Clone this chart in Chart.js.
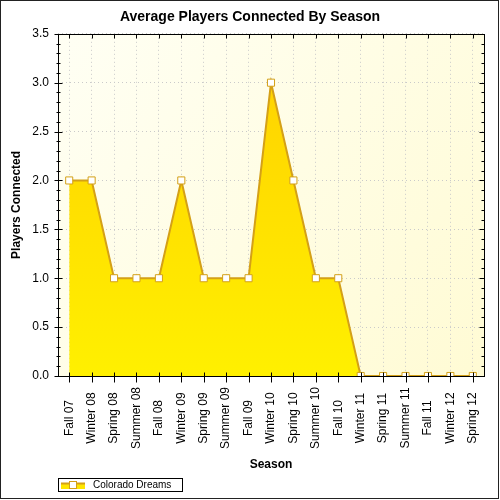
<!DOCTYPE html>
<html><head><meta charset="utf-8">
<script src="https://cdn.jsdelivr.net/npm/chart.js@4"></script>
<style>html,body{margin:0;padding:0;background:#fff}canvas{display:block}</style>
</head><body>
<canvas id="c" width="500" height="500"></canvas>
<script>
const seasons = ['Fall 07','Winter 08','Spring 08','Summer 08','Fall 08','Winter 09','Spring 09','Summer 09','Fall 09','Winter 10','Spring 10','Summer 10','Fall 10','Winter 11','Spring 11','Summer 11','Fall 11','Winter 12','Spring 12'];
const coloradoDreams = [2,2,1,1,1,2,1,1,1,3,2,1,1,0,0,0,0,0,0];
const seriesName = 'Colorado Dreams';
const chartTitle = 'Average Players Connected By Season';
const yTitle = 'Players Connected';
const xTitle = 'Season';
const yMin = 0, yMax = 3.5, yStep = 0.5, yMinorStep = 0.1;

const FONT = "'Liberation Sans', Arial, sans-serif";
const LINE = '#D4A017';

function fillGradient(ctx) {
  const ch = ctx.chart, a = ch.chartArea;
  if (!a) return '#FFE600';
  const ys = ch.scales.y;
  const g = ch.ctx.createLinearGradient(0, ys.getPixelForValue(3), 0, a.bottom);
  g.addColorStop(0, '#FFD400');
  g.addColorStop(1, '#FFF000');
  return g;
}

const decor = {
  id: 'decor',
  beforeDraw(chart) {
    const {ctx, chartArea: a} = chart;
    ctx.save();
    const g = ctx.createLinearGradient(a.left, a.top, a.right, a.bottom);
    g.addColorStop(0, '#FFFFF4');
    g.addColorStop(1, '#FFFBD4');
    ctx.fillStyle = g;
    ctx.fillRect(a.left, a.top, a.right - a.left, a.bottom - a.top);
    ctx.restore();
  },
  afterDraw(chart) {
    const {ctx, chartArea: a} = chart;
    const xs = chart.scales.x, ys = chart.scales.y;
    const L = Math.round(a.left) + 0.5, R = Math.round(a.right) + 0.5;
    const T = Math.round(a.top) + 0.5, B = Math.round(a.bottom) + 0.5;
    ctx.save();
    ctx.strokeStyle = '#000';
    ctx.lineWidth = 1;
    ctx.strokeRect(L, T, R - L, B - T);
    ctx.beginPath();
    // y ticks
    const n = Math.round((yMax - yMin) / yMinorStep);
    for (let k = 0; k <= n; k++) {
      const v = yMin + k * yMinorStep;
      const y = Math.round(ys.getPixelForValue(v)) + 0.5;
      const major = k % Math.round(yStep / yMinorStep) === 0;
      if (major) {
        ctx.moveTo(L - 4, y); ctx.lineTo(L + 4, y);
        ctx.moveTo(R - 5, y); ctx.lineTo(R, y);
      } else {
        ctx.moveTo(L - 2, y); ctx.lineTo(L + 2, y);
        ctx.moveTo(R - 3, y); ctx.lineTo(R, y);
      }
    }
    // x ticks
    for (let i = 0; i < seasons.length; i++) {
      const x = Math.round(xs.getPixelForTick(i)) + 0.5;
      ctx.moveTo(x, B - 4); ctx.lineTo(x, B + 6);
      ctx.moveTo(x, T); ctx.lineTo(x, T + 4);
    }
    ctx.stroke();
    // x labels
    ctx.fillStyle = '#000';
    ctx.font = '12px ' + FONT;
    ctx.textAlign = 'center';
    ctx.textBaseline = 'middle';
    for (let i = 0; i < seasons.length; i++) {
      const x = xs.getPixelForTick(i);
      ctx.save();
      ctx.translate(x, 418);
      ctx.rotate(-Math.PI / 2);
      ctx.fillText(seasons[i], 0, 0);
      ctx.restore();
    }
    // legend
    const lx = 58.5, ly = 478.5;
    ctx.strokeStyle = '#000';
    ctx.strokeRect(lx, ly, 124, 13);
    ctx.fillStyle = '#FFE600';
    ctx.fillRect(61, 483, 24, 6);
    ctx.strokeStyle = LINE;
    ctx.lineWidth = 2;
    ctx.beginPath(); ctx.moveTo(61, 483.5); ctx.lineTo(85, 483.5); ctx.stroke();
    ctx.lineWidth = 1;
    ctx.fillStyle = '#fff';
    ctx.fillRect(70, 482, 6, 6);
    ctx.strokeRect(69.5, 481.5, 7, 7);
    ctx.fillStyle = '#000';
    ctx.font = '10px ' + FONT;
    ctx.textAlign = 'left';
    ctx.textBaseline = 'middle';
    ctx.fillText(chart.data.datasets[0].label, 93, 485.5);
    // outer border
    ctx.strokeStyle = '#222';
    ctx.lineWidth = 1;
    ctx.strokeRect(0.5, 0.5, 498, 498);
    ctx.restore();
  }
};

Chart.defaults.color = '#000';
Chart.defaults.font.family = FONT;

new Chart(document.getElementById('c'), {
  type: 'line',
  data: {
    labels: seasons,
    datasets: [{
      label: seriesName,
      data: coloradoDreams,
      borderColor: LINE,
      borderWidth: 2,
      backgroundColor: fillGradient,
      fill: 'origin',
      tension: 0,
      pointStyle: 'rect',
      pointRadius: 5,
      pointBorderWidth: 1,
      pointBackgroundColor: '#fff',
      pointBorderColor: LINE,
      yAxisID: 'y'
    }]
  },
  options: {
    responsive: false,
    animation: false,
    devicePixelRatio: 1,
    layout: {padding: {left: 0, right: 0, top: 0, bottom: 25}},
    plugins: {
      legend: {display: false},
      tooltip: {enabled: false},
      title: {
        display: true, text: chartTitle, color: '#000',
        font: {size: 14, weight: 'bold', family: FONT},
        padding: {top: 9, bottom: 8}
      }
    },
    scales: {
      x: {
        type: 'category',
        offset: true,
        grid: {offset: false, color: '#CACACA', lineWidth: 1, drawTicks: false},
        border: {display: false, dash: [1, 3]},
        ticks: {display: false},
        title: {display: true, text: xTitle, color: '#000', font: {size: 12, weight: 'bold', family: FONT}, padding: {top: 0, bottom: 3}},
        afterFit(s) { s.height = 99; }
      },
      y: {
        type: 'linear',
        position: 'left',
        min: yMin, max: yMax,
        grid: {color: '#CACACA', lineWidth: 1, drawTicks: false},
        border: {display: false, dash: [1, 3]},
        ticks: {stepSize: yStep, padding: 9, color: '#000', font: {size: 12, family: FONT}, callback: v => Number(v).toFixed(1)},
        title: {display: true, text: yTitle, color: '#000', font: {size: 12, weight: 'bold', family: FONT}, padding: {top: 9, bottom: 0}},
        afterFit(s) { s.width = 58; }
      },
      yR: {
        type: 'linear',
        position: 'right',
        display: true,
        grid: {display: false, drawTicks: false},
        border: {display: false},
        ticks: {display: false},
        afterFit(s) { s.width = 16; }
      }
    }
  },
  plugins: [decor]
});
</script>
</body></html>
